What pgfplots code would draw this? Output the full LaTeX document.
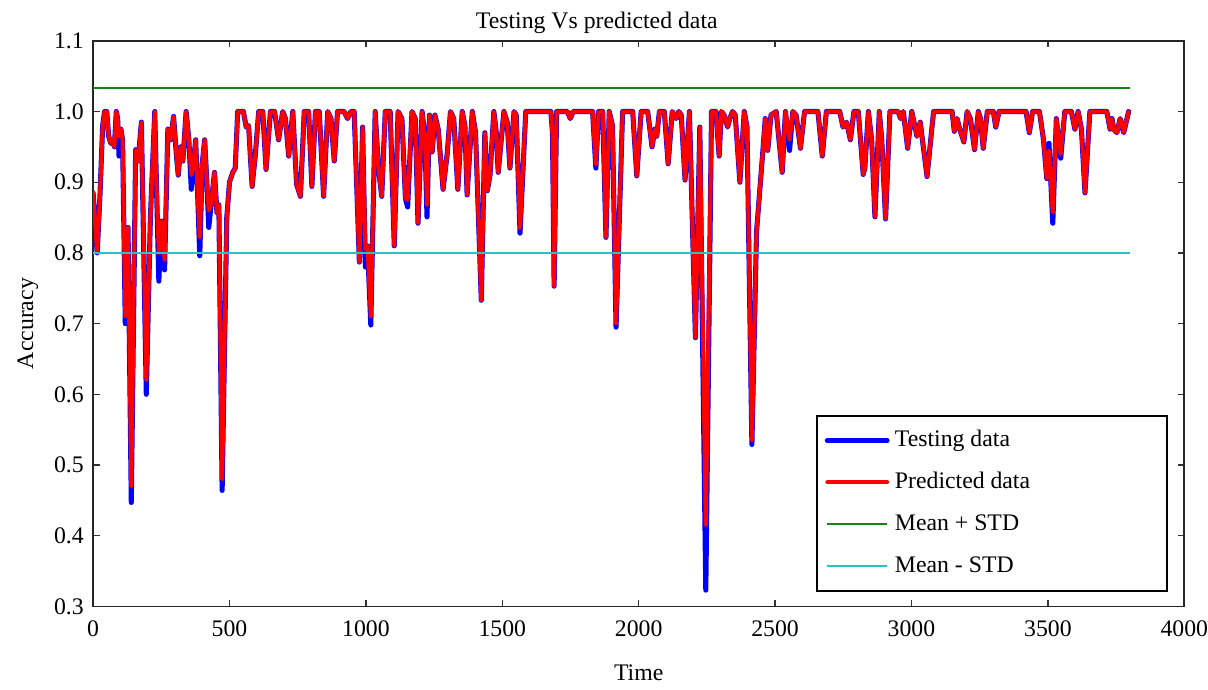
\documentclass[border=0pt]{standalone}
\usepackage{fontspec}
\setmainfont{Liberation Serif}
\usepackage{pgfplots}
\usepackage{pgfplotstable}
\pgfplotsset{compat=1.18}

\definecolor{mgreen}{RGB}{20,130,20}
\definecolor{mcyan}{RGB}{40,195,195}

% time, testing accuracy, predicted accuracy
\pgfplotstableread{
x t p
0 0.885 0.885
8 0.84 0.84
15 0.80 0.80
25 0.88 0.88
35 0.98 0.98
42 1.00 1.00
50 1.00 1.00
57 0.965 0.965
65 0.955 0.955
72 0.96 0.96
78 0.95 0.95
85 1.00 1.00
90 0.99 0.99
95 0.937 0.965
102 0.975 0.975
108 0.96 0.96
118 0.70 0.71
128 0.836 0.836
140 0.447 0.47
156 0.946 0.946
165 0.93 0.93
177 0.985 0.985
195 0.60 0.62
210 0.85 0.85
226 1.00 1.00
232 0.90 0.90
241 0.76 0.80
250 0.845 0.845
262 0.776 0.79
274 0.975 0.975
284 0.96 0.96
295 0.993 0.993
305 0.94 0.94
312 0.91 0.91
321 0.95 0.95
329 0.93 0.93
341 1.00 1.00
351 0.96 0.96
360 0.89 0.91
366 0.92 0.92
376 0.96 0.96
384 0.874 0.874
391 0.796 0.822
400 0.926 0.926
409 0.96 0.96
417 0.90 0.90
424 0.836 0.86
433 0.87 0.87
445 0.914 0.914
454 0.857 0.857
461 0.868 0.868
473 0.464 0.48
490 0.85 0.85
500 0.90 0.90
512 0.914 0.914
521 0.92 0.92
530 1.00 1.00
551 1.00 1.00
561 0.978 0.978
570 0.98 0.98
583 0.894 0.894
595 0.94 0.94
607 1.00 1.00
622 1.00 1.00
634 0.918 0.918
650 1.00 1.00
665 1.00 1.00
680 0.96 0.96
695 1.00 1.00
705 0.99 0.99
717 0.937 0.937
732 1.00 1.00
746 0.897 0.897
760 0.88 0.88
774 1.00 1.00
790 1.00 1.00
802 0.894 0.894
815 1.00 1.00
829 1.00 1.00
845 0.88 0.88
860 1.00 1.00
872 0.99 0.99
884 0.93 0.93
896 1.00 1.00
920 1.00 1.00
933 0.99 0.99
945 1.00 1.00
957 1.00 1.00
976 0.787 0.787
988 0.978 0.978
998 0.78 0.805
1006 0.81 0.81
1018 0.698 0.71
1034 1.00 1.00
1046 0.92 0.92
1058 0.88 0.88
1071 1.00 1.00
1089 1.00 1.00
1104 0.81 0.81
1118 1.00 1.00
1132 0.99 0.99
1145 0.877 0.877
1153 0.865 0.875
1169 1.00 1.00
1181 0.99 0.99
1191 0.842 0.842
1206 1.00 1.00
1216 0.965 0.965
1224 0.851 0.868
1233 0.995 0.995
1243 0.943 0.943
1253 0.995 0.995
1265 0.975 0.975
1283 0.89 0.89
1298 0.94 0.94
1310 1.00 1.00
1322 0.99 0.99
1337 0.89 0.89
1353 1.00 1.00
1363 0.98 0.98
1371 0.882 0.882
1390 1.00 1.00
1402 0.97 0.97
1423 0.733 0.733
1436 0.97 0.97
1445 0.888 0.888
1455 0.91 0.91
1469 1.00 1.00
1478 0.97 0.97
1485 0.914 0.914
1506 1.00 1.00
1518 0.985 0.985
1528 0.92 0.92
1543 1.00 1.00
1551 0.995 0.995
1565 0.828 0.835
1586 1.00 1.00
1678 1.00 1.00
1684 0.97 0.97
1690 0.753 0.753
1699 1.00 1.00
1739 1.00 1.00
1749 0.99 0.99
1760 1.00 1.00
1831 1.00 1.00
1843 0.92 0.925
1853 1.00 1.00
1868 1.00 1.00
1880 0.822 0.822
1892 1.00 1.00
1904 0.98 0.98
1917 0.695 0.70
1941 1.00 1.00
1978 1.00 1.00
1993 0.909 0.909
2009 1.00 1.00
2033 1.00 1.00
2049 0.95 0.95
2059 0.975 0.975
2066 0.965 0.965
2076 1.00 1.00
2094 1.00 1.00
2108 0.926 0.926
2123 1.00 1.00
2137 0.99 0.99
2147 1.00 1.00
2156 0.995 0.995
2170 0.903 0.903
2186 1.00 1.00
2208 0.68 0.68
2224 0.978 0.978
2246 0.323 0.415
2267 1.00 1.00
2283 1.00 1.00
2295 0.937 0.937
2303 1.00 1.00
2313 0.995 0.995
2326 0.978 0.978
2334 0.99 0.99
2344 1.00 1.00
2354 0.995 0.995
2371 0.90 0.90
2387 1.00 1.00
2397 0.978 0.978
2415 0.529 0.535
2432 0.83 0.83
2455 0.943 0.943
2464 0.99 0.99
2473 0.945 0.945
2485 0.995 0.995
2504 1.00 1.00
2526 0.914 0.914
2538 1.00 1.00
2553 0.945 0.96
2565 1.00 1.00
2577 0.995 0.995
2593 0.948 0.948
2608 1.00 1.00
2657 1.00 1.00
2673 0.937 0.937
2688 1.00 1.00
2737 1.00 1.00
2749 0.978 0.978
2762 0.985 0.985
2776 0.96 0.96
2789 1.00 1.00
2805 1.00 1.00
2823 0.911 0.911
2829 0.92 0.92
2842 1.00 1.00
2854 0.96 0.96
2866 0.851 0.851
2882 1.00 1.00
2891 0.96 0.96
2905 0.848 0.848
2921 1.00 1.00
2951 1.00 1.00
2960 0.99 0.99
2970 1.00 1.00
2986 0.948 0.948
3001 1.00 1.00
3020 0.965 0.965
3032 0.985 0.985
3057 0.908 0.908
3081 1.00 1.00
3149 1.00 1.00
3157 0.972 0.972
3167 0.99 0.99
3177 0.975 0.975
3192 0.957 0.957
3204 1.00 1.00
3216 0.99 0.99
3231 0.946 0.946
3245 1.00 1.00
3253 0.99 0.99
3263 0.948 0.948
3278 1.00 1.00
3300 1.00 1.00
3309 0.978 0.978
3321 1.00 1.00
3420 1.00 1.00
3432 0.97 0.97
3444 1.00 1.00
3469 1.00 1.00
3484 0.96 0.96
3496 0.905 0.905
3504 0.955 0.945
3518 0.842 0.857
3531 0.99 0.99
3547 0.934 0.94
3562 1.00 1.00
3586 1.00 1.00
3599 0.975 0.975
3611 1.00 1.00
3623 0.975 0.975
3636 0.885 0.885
3654 1.00 1.00
3716 1.00 1.00
3728 0.975 0.975
3735 0.99 0.99
3741 0.975 0.975
3753 0.97 0.97
3765 0.99 0.99
3778 0.97 0.97
3796 1.00 1.00
}\acc

\begin{document}
\begin{tikzpicture}
\begin{axis}[
    scale only axis,
    width=409pt, height=212pt,
    xmin=0, xmax=4000,
    ymin=0.3, ymax=1.1,
    xtick={0,500,...,4000},
    ytick={0.3,0.4,...,1.1},
    tick pos=both,
    xticklabel pos=lower, yticklabel pos=left,
    tick align=inside,
    major tick length=2.5pt,
    scaled x ticks=false,
    xticklabel style={inner xsep=0pt, yshift=-2pt,
        /pgf/number format/.cd,1000 sep={}},
    yticklabel style={/pgf/number format/.cd,fixed,fixed zerofill,precision=1},
    /pgf/number format/assume math mode=true,
    axis line style={black!85, line width=0.6pt},
    every tick/.style={black!80, line width=0.5pt},
    font=\fontsize{8.9}{10.5}\selectfont,
    title={Testing Vs predicted data},
    title style={yshift=-7pt, xshift=-15.7pt},
    xlabel={Time},
    ylabel={Accuracy},
    xlabel style={yshift=-3.5pt},
    ylabel style={yshift=-1pt},
    legend cell align=left,
    legend style={at={(0.985,0.026)}, anchor=south east,
        draw=black, line width=0.6pt, row sep=3.2pt, inner sep=3pt,
        font=\fontsize{8.9}{10.5}\selectfont,
        nodes={text height=6.5pt, text depth=2pt}},
    legend image code/.code={\draw[#1] (0pt,0pt) -- (22.4pt,0pt);},
]
\addplot[blue, line width=1.9pt, line join=round, line cap=round]
    table[x=x, y=t] {\acc};
\addlegendentry{\makebox[97pt][l]{Testing data}}
\addplot[red, line width=1.5pt, line join=round, line cap=round]
    table[x=x, y=p] {\acc};
\addlegendentry{\makebox[97pt][l]{Predicted data}}
\addplot[mgreen, line width=0.65pt] coordinates {(0,1.033) (3800,1.033)};
\addlegendentry{\makebox[97pt][l]{Mean + STD}}
\addplot[mcyan, line width=0.65pt] coordinates {(0,0.80) (3800,0.80)};
\addlegendentry{\makebox[97pt][l]{Mean - STD}}
\end{axis}
\path (current axis.north) ++(0pt,15.3pt);
\path (current axis.south) ++(0pt,-28.4pt);
\path (current axis.west) ++(-34.9pt,0pt);
\end{tikzpicture}
\end{document}
